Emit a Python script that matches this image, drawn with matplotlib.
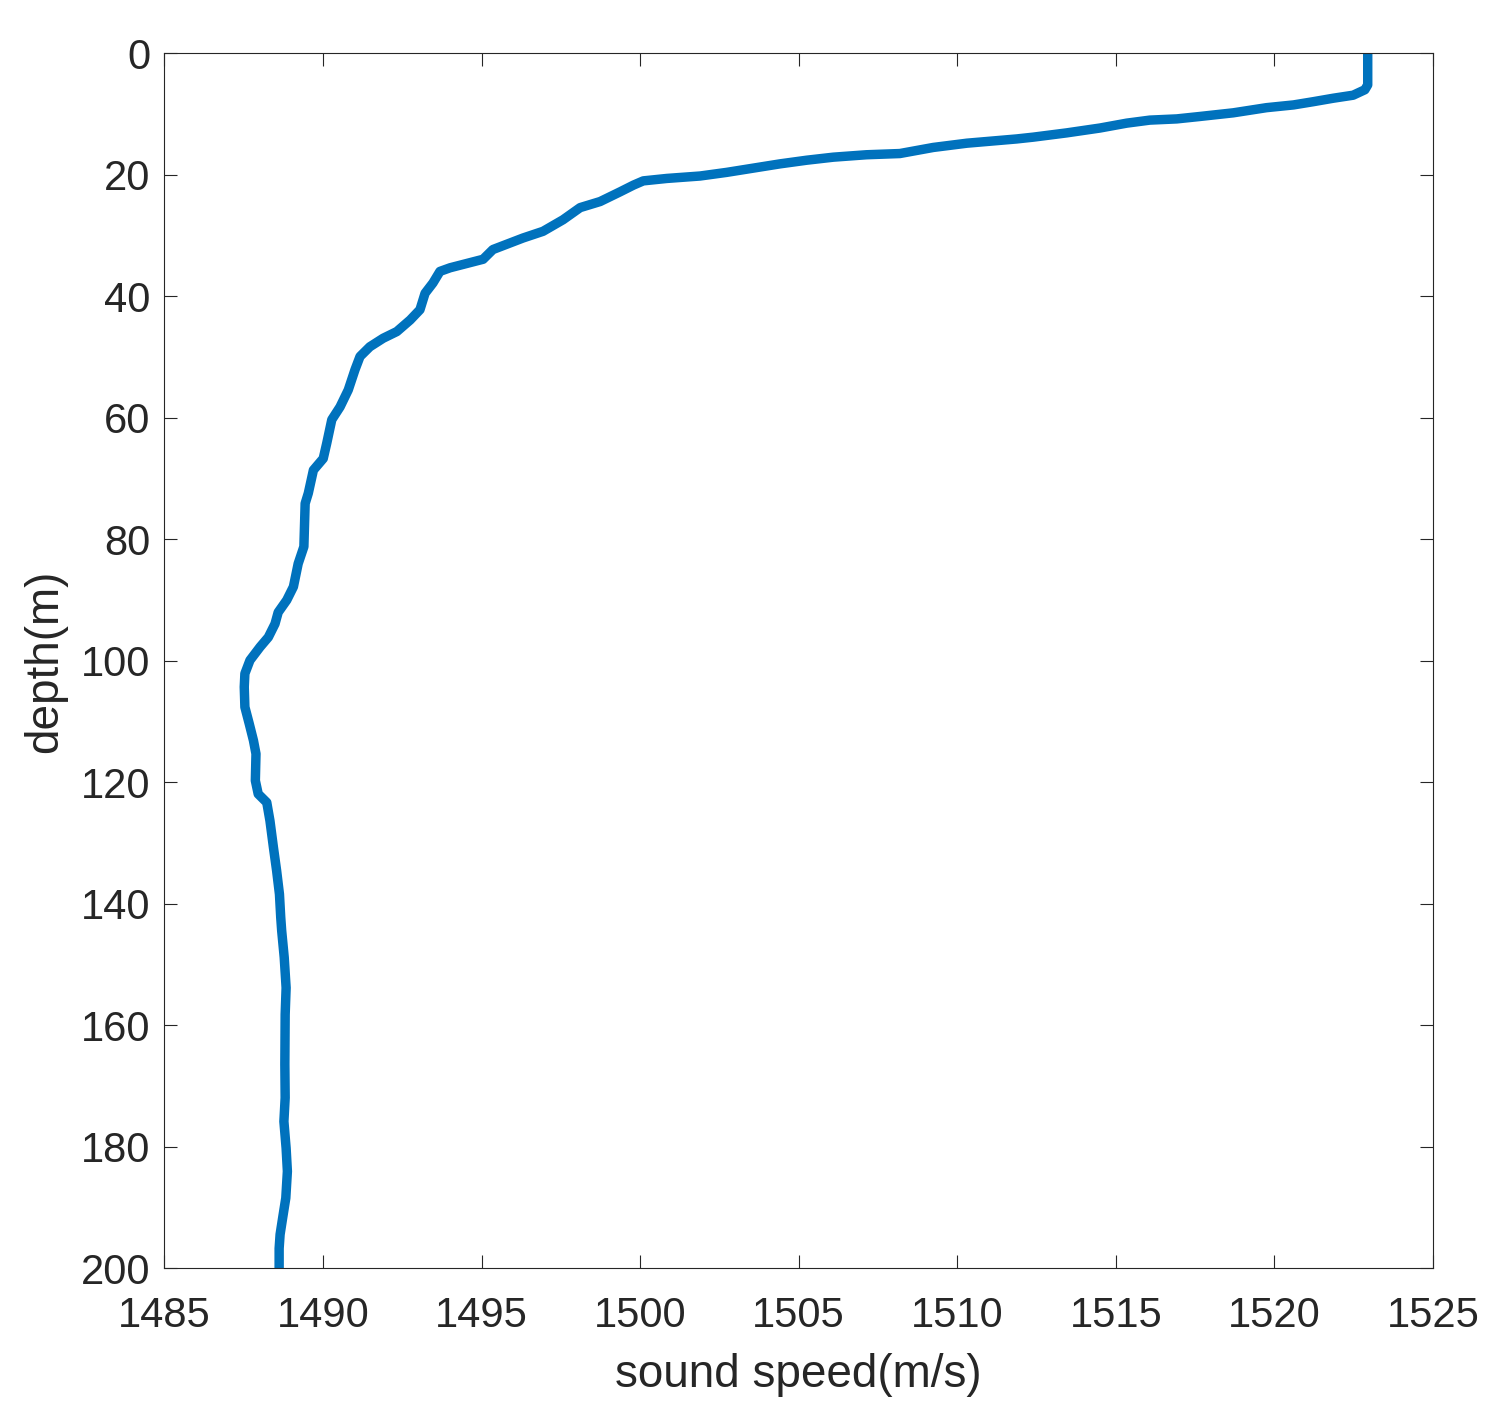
import matplotlib
matplotlib.use("Agg")
import matplotlib.pyplot as plt

depth = [0, 5.2, 6.0, 6.9, 7.4, 7.97, 8.5, 8.95, 9.8, 10.4, 10.8, 11.0, 11.5, 12.3,
         13.1, 13.8, 14.1, 14.8, 15.5, 16.5, 16.7, 17.1, 17.6, 18.2, 18.9, 19.6,
         20.2, 20.6, 21.0, 21.7, 22.8, 24.4, 25.4, 27.4, 29.3, 30.4, 32.3, 33.9,
         35.3, 35.9, 37.8, 39.5, 42.2, 43.9, 45.8, 46.9, 48.3, 49.9, 52.1, 55.4,
         58.2, 60.3, 64.2, 66.7, 68.6, 72.4, 74.1, 81.2, 84.0, 87.8, 90.0, 92.0,
         93.9, 96.1, 97.7, 99.9, 102.1, 104.3, 107.6, 110.4, 113.1, 115.3, 119.7,
         121.9, 123.3, 126.3, 130.7, 134.5, 138.4, 142.2, 144.4, 148.8, 153.8,
         158.2, 166.4, 171.9, 175.8, 180.2, 184.0, 188.4, 191.7, 194.4, 196.7, 200]
speed = [1522.94, 1522.94, 1522.85, 1522.48, 1521.85, 1521.22, 1520.6, 1519.75,
         1518.7, 1517.65, 1516.92, 1516.07, 1515.34, 1514.5, 1513.45, 1512.4,
         1511.87, 1510.3, 1509.24, 1508.19, 1507.14, 1506.09, 1505.25, 1504.41,
         1503.57, 1502.73, 1501.89, 1500.84, 1500.1, 1499.79, 1499.37, 1498.74,
         1498.11, 1497.57, 1496.94, 1496.31, 1495.36, 1495.05, 1494.01, 1493.69,
         1493.47, 1493.22, 1493.06, 1492.75, 1492.33, 1491.9, 1491.48, 1491.17,
         1491.01, 1490.8, 1490.54, 1490.28, 1490.12, 1490.01, 1489.7, 1489.54,
         1489.44, 1489.40, 1489.22, 1489.07, 1488.86, 1488.59, 1488.49, 1488.28,
         1488.02, 1487.70, 1487.54, 1487.52, 1487.54, 1487.68, 1487.81, 1487.89,
         1487.87, 1487.96, 1488.23, 1488.33, 1488.44, 1488.54, 1488.63, 1488.67,
         1488.70, 1488.78, 1488.84, 1488.81, 1488.80, 1488.81, 1488.77, 1488.84,
         1488.88, 1488.83, 1488.73, 1488.65, 1488.62, 1488.62]

x_ticks = [1485, 1490, 1495, 1500, 1505, 1510, 1515, 1520, 1525]
y_ticks = [0, 20, 40, 60, 80, 100, 120, 140, 160, 180, 200]

plt.rcParams['font.family'] = ['Liberation Sans', 'DejaVu Sans']

fig = plt.figure(figsize=(15.02, 14.17), dpi=100)
ax = fig.add_axes([0.1094, 0.1048, 0.9541 - 0.1094, 0.9624 - 0.1048])

ax.plot(speed, depth, color='#0072BD', linewidth=6.8,
        solid_joinstyle='round', solid_capstyle='butt')

ax.set_xlim(1485, 1525)
ax.set_ylim(200, 0)
ax.set_xticks(x_ticks)
ax.set_yticks(y_ticks)
ax.set_xticklabels([str(v) for v in x_ticks])
ax.set_yticklabels([str(v) for v in y_ticks])

dark = '#262626'
for s in ax.spines.values():
    s.set_linewidth(0.8)
    s.set_color(dark)
ax.tick_params(direction='in', length=9.5, width=0.8, color=dark,
               labelcolor=dark, labelsize=30, top=True, right=True)
ax.tick_params(axis='x', pad=20)
ax.tick_params(axis='y', pad=10)

ax.set_xlabel('sound speed(m/s)', fontsize=33, color=dark, labelpad=12)
ax.set_ylabel('depth(m)', fontsize=33, color=dark, labelpad=10)

fig.savefig('out.png', dpi=100, facecolor='white')
